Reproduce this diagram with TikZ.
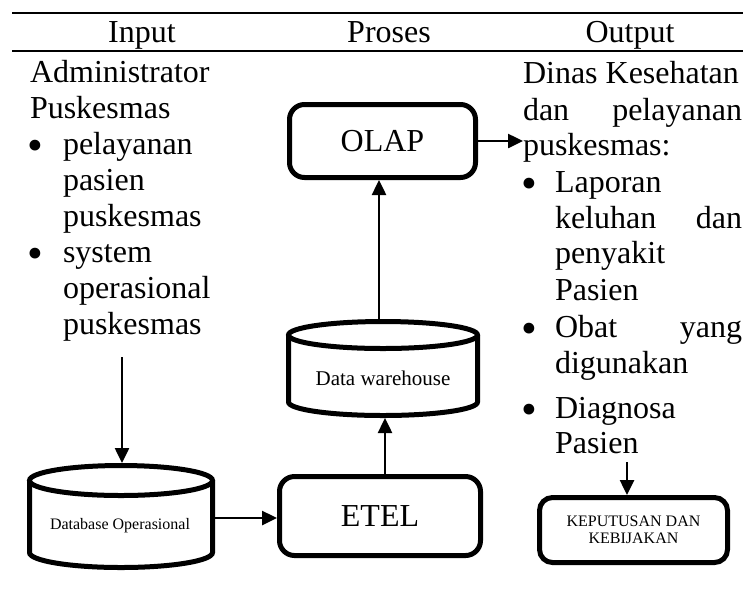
\documentclass[tikz,border=0pt]{standalone}
\usepackage{fontspec}
\setmainfont{Liberation Serif}
\usetikzlibrary{arrows.meta}
\newcommand{\bigbul}{\raisebox{-6pt}{\fontsize{45}{45}\selectfont •}}
\begin{document}
\begin{tikzpicture}[x=1pt,y=-1pt,
  txt/.style={inner sep=0pt,outer sep=0pt,anchor=base west,font=\fontsize{32}{36}\selectfont},
  bul/.style={inner sep=0pt,outer sep=0pt,anchor=base,font=\fontsize{32}{36}\selectfont},
  rbox/.style={draw,line width=5pt,rounded corners=15pt,inner sep=0pt},
  cyl/.style={line width=5pt},
  arr/.style={line width=2.5pt,-{Triangle[length=15pt,width=14pt]}},
  hrule/.style={line width=2.5pt}]
\useasboundingbox (0,0) rectangle (743,606);
% table rules and header
\draw[hrule] (12,13) -- (743,13);
\draw[hrule] (12,51) -- (743,51);
\node[bul] (hin) at (142,42) {Input};
\node[bul] (hpr) at (389,42) {Proses};
\node[bul] (hout) at (630,42) {Output};
% left column
\node[txt] (l1) at (30,82) {Administrator};
\node[txt] (l2) at (30,118) {Puskesmas};
\node[bul] (lb1) at (35,154) {\bigbul};
\node[txt] (l3) at (63,154) {pelayanan};
\node[txt] (l4) at (63,190) {pasien};
\node[txt] (l5) at (63,226) {puskesmas};
\node[bul] (lb2) at (35,262) {\bigbul};
\node[txt] (l6) at (63,262) {system};
\node[txt] (l7) at (63,298) {operasional};
\node[txt] (l8) at (63,334) {puskesmas};
% right column
\node[txt] (r1) at (523,83) {Dinas Kesehatan};
\node[txt] (r2) at (523,120) {\makebox[219pt][s]{dan pelayanan}};
\node[txt] (r3) at (523,155) {puskesmas:};
\node[bul] (rb1) at (529,192) {\bigbul};
\node[txt] (r4) at (555,192) {Laporan};
\node[txt] (r5) at (555,228) {\makebox[187pt][s]{keluhan dan}};
\node[txt] (r6) at (555,263) {penyakit};
\node[txt] (r7) at (555,300) {Pasien};
\node[bul] (rb2) at (529,337) {\bigbul};
\node[txt] (r8) at (555,337) {\makebox[187pt][s]{Obat yang}};
\node[txt] (r9) at (555,373) {digunakan};
\node[bul] (rb3) at (529,418) {\bigbul};
\node[txt] (r10) at (555,418) {Diagnosa};
\node[txt] (r11) at (555,453) {Pasien};
% process boxes
\node[rbox,minimum width=186pt,minimum height=73pt,font=\fontsize{32}{36}\selectfont] (olap) at (382.5,141) {OLAP};
\node[rbox,minimum width=201pt,minimum height=79pt,font=\fontsize{32}{36}\selectfont] (etel) at (380,516) {\raisebox{-2pt}{ETEL}};
\node[rbox,rounded corners=13pt,minimum width=188pt,minimum height=65pt,align=center,font=\fontsize{16}{17.5}\selectfont] (kep) at (633.5,530) {KEPUTUSAN DAN\\KEBIJAKAN};
% data warehouse cylinder
\draw[cyl] (288.5,335) -- (288.5,402) arc[start angle=180,end angle=0,x radius=94.5,y radius=13.5] -- (477.5,335);
\draw[cyl] (383,335) ellipse[x radius=94.5,y radius=13.5];
\node[inner sep=0pt,font=\fontsize{21}{24}\selectfont] (dw) at (383,378) {Data warehouse};
% database operasional cylinder
\draw[cyl] (29.5,480.5) -- (29.5,552.5) arc[start angle=180,end angle=0,x radius=91.5,y radius=15] -- (212.5,480.5);
\draw[cyl] (121,480.5) ellipse[x radius=91.5,y radius=15];
\node[inner sep=0pt,font=\fontsize{16}{18}\selectfont] (db) at (120,526) {Database Operasional};
% connector ends
\coordinate (dwtop) at (379,321);
\coordinate (dwbot) at (385,418);
\coordinate (dbtop) at (122,463);
\coordinate (admin) at (122,357);
\coordinate (dbright) at (215,518);
\coordinate (outp) at (627,462);
% connectors
\draw[arr] (admin) -- (dbtop);
\draw[arr] (dbright) -- (dbright -| etel.west);
\draw[arr] (dwbot |- etel.north) -- (dwbot);
\draw[arr] (dwtop) -- (dwtop |- olap.south);
\draw[arr] (olap.east) -- (olap.east -| r3.west);
\draw[arr] (outp) -- (outp |- kep.north);
\end{tikzpicture}
\end{document}
